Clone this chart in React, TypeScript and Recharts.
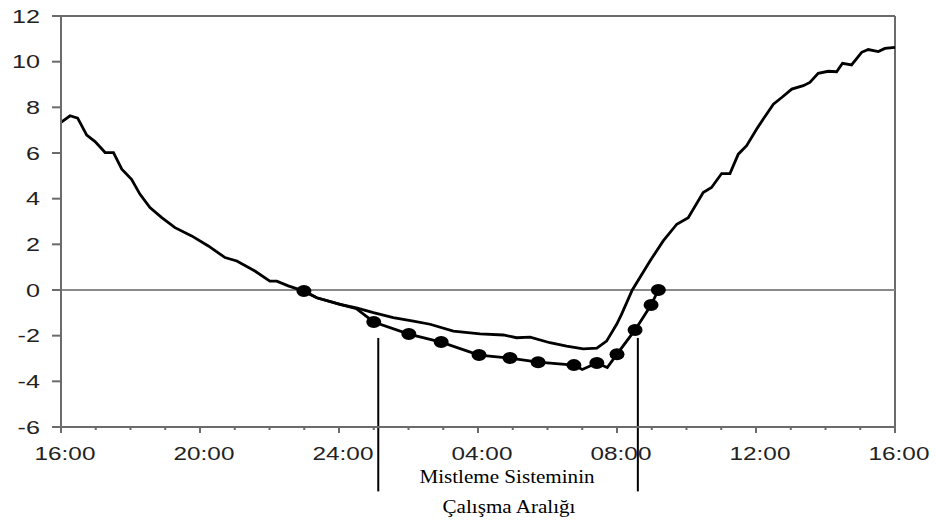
import { LineChart, Line, XAxis, YAxis, ReferenceLine } from 'recharts';

// hours counted from 16:00 of the first day (0..24)
const warmHours = [
  0, 0.26, 0.48, 0.74, 0.98, 1.27, 1.51, 1.75, 2.03, 2.27, 2.56, 2.9, 3.28, 3.76, 4.24, 4.72,
  5.06, 5.58, 6.01, 6.21, 6.54, 6.99, 7.36, 8.03, 8.5, 8.99, 9.56, 10.14, 10.62, 11.29, 12.06,
  12.73, 13.11, 13.5, 14.07, 14.55, 15.03, 15.42, 15.7, 15.99, 16.13, 16.44, 16.95, 17.33, 17.72,
  18.05, 18.48, 18.72, 19.01, 19.25, 19.49, 19.73, 20.02, 20.21, 20.5, 20.74, 21.03, 21.36, 21.55,
  21.79, 22.08, 22.32, 22.49, 22.75, 23.04, 23.23, 23.52, 23.71, 24,
];
const warmValues = [
  7.34, 7.63, 7.53, 6.78, 6.5, 6.02, 6.02, 5.29, 4.85, 4.2, 3.61, 3.17, 2.73, 2.37, 1.93, 1.42,
  1.27, 0.83, 0.39, 0.39, 0.18, -0.05, -0.34, -0.63, -0.78, -0.99, -1.21, -1.36, -1.5, -1.8, -1.92,
  -1.97, -2.09, -2.06, -2.31, -2.46, -2.58, -2.55, -2.24, -1.5, -1.07, 0, 1.27, 2.15, 2.88,
  3.17, 4.27, 4.49, 5.1, 5.1, 5.95, 6.32, 7.05, 7.49, 8.14, 8.43, 8.8, 8.95, 9.09,
  9.49, 9.58, 9.56, 9.93, 9.86, 10.41, 10.53, 10.44, 10.58, 10.63,
];

const mistHours = [6.99, 7.36, 8.03, 8.5, 9.0, 10.01, 10.94, 12.03, 12.92, 13.73, 14.76, 15.0, 15.42, 15.72, 16.0, 16.52, 16.98, 17.19];
const mistValues = [-0.04, -0.34, -0.63, -0.82, -1.4, -1.93, -2.28, -2.85, -2.98, -3.16, -3.29, -3.48, -3.2, -3.4, -2.81, -1.75, -0.66, 0];
const mistMarked = [true, false, false, false, true, true, true, true, true, true, true, false, true, false, true, true, true, true];

const hourTicks = Array.from({ length: 25 }, (_, i) => i);
const majorTicks = [0, 4, 8, 12, 16, 20, 24];
const majorLabels = ['16:00', '20:00', '24:00', '04:00', '08:00', '12:00', '16:00'];
const yTicks = [-6, -4, -2, 0, 2, 4, 6, 8, 10, 12];

// mist system working range (annotation)
const rangeStart = 9.13;
const rangeEnd = 16.6;
const rangeTop = -2.1;
const rangeBottom = -8.82;

const warmData = warmHours.map((h, i) => ({ h, v: warmValues[i] }));
const mistData = mistHours.map((h, i) => ({ h, v: mistValues[i], mark: mistMarked[i] }));

const FRAME = '#6b6b6b';

function XTick({ x, y, payload }: any) {
  const idx = majorTicks.indexOf(payload.value);
  const major = idx >= 0;
  return (
    <g>
      <line x1={x} x2={x} y1={y} y2={y + (major ? 6 : 3)} stroke={FRAME} strokeWidth={2} />
      {major && (
        <text
          transform={`translate(${x + 4},${y + 33}) scale(1.35,1)`}
          textAnchor="middle"
          fontSize={18}
          fontFamily="'Liberation Sans', Arial, sans-serif"
          fill="#222"
        >
          {majorLabels[idx]}
        </text>
      )}
    </g>
  );
}

function YTick({ x, y, payload }: any) {
  return (
    <g>
      <line x1={x - 9} x2={x} y1={y} y2={y} stroke={FRAME} strokeWidth={2} />
      <text
        transform={`translate(${x - 21},${y + 6.5}) scale(1.4,1)`}
        textAnchor="end"
        fontSize={18}
        fontFamily="'Liberation Sans', Arial, sans-serif"
        fill="#222"
      >
        {payload.value}
      </text>
    </g>
  );
}

function MistDot(props: any) {
  const { cx, cy, payload, index } = props;
  if (!payload.mark) return <g key={index} />;
  return <ellipse key={index} cx={cx} cy={cy} rx={7.5} ry={6} fill="#000" />;
}

export default function App() {
  return (
    <div style={{ position: 'absolute', left: 0, top: 0, width: 936, height: 520, background: '#fff' }}>
      <LineChart width={936} height={520} margin={{ top: 16, right: 41, bottom: 53, left: 0 }}>
        <XAxis
          type="number"
          dataKey="h"
          domain={[0, 24]}
          ticks={hourTicks}
          interval={0}
          height={40}
          tickSize={0}
          tickMargin={0}
          tickLine={false}
          axisLine={{ stroke: FRAME, strokeWidth: 2 }}
          tick={<XTick />}
        />
        <YAxis
          type="number"
          domain={[-6, 12]}
          ticks={yTicks}
          interval={0}
          width={61}
          tickSize={0}
          tickMargin={0}
          tickLine={false}
          axisLine={{ stroke: FRAME, strokeWidth: 2 }}
          tick={<YTick />}
        />
        <ReferenceLine y={12} stroke={FRAME} strokeWidth={2} />
        <ReferenceLine x={24} stroke={FRAME} strokeWidth={2} />
        <ReferenceLine y={0} stroke="#8a8a8a" strokeWidth={2} />
        <Line
          data={warmData}
          dataKey="v"
          type="linear"
          stroke="#000"
          strokeWidth={2.8}
          dot={false}
          isAnimationActive={false}
        />
        <Line
          data={mistData}
          dataKey="v"
          type="linear"
          stroke="#000"
          strokeWidth={2.8}
          dot={(p: any) => <MistDot {...p} />}
          activeDot={false}
          isAnimationActive={false}
        />
        <ReferenceLine
          segment={[{ x: rangeStart, y: rangeTop }, { x: rangeStart, y: rangeBottom }]}
          stroke="#000"
          strokeWidth={2}
          ifOverflow="visible"
        />
        <ReferenceLine
          segment={[{ x: rangeEnd, y: rangeTop }, { x: rangeEnd, y: rangeBottom }]}
          stroke="#000"
          strokeWidth={2}
          ifOverflow="visible"
        />
      </LineChart>
      <svg
        width={936}
        height={520}
        style={{ position: 'absolute', left: 0, top: 0, pointerEvents: 'none' }}
      >
        <g fontFamily="'Liberation Serif', 'Times New Roman', serif" fontSize={19} fill="#000">
          <text transform="translate(507,483) scale(1.11,1)" textAnchor="middle">
            Mistleme Sisteminin
          </text>
          <text transform="translate(509,513) scale(1.11,1)" textAnchor="middle">
            Çalışma Aralığı
          </text>
        </g>
      </svg>
    </div>
  );
}
